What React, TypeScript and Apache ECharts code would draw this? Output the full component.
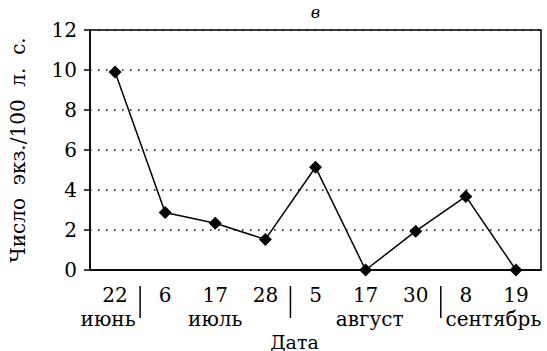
import React, { useEffect, useRef } from "react";
import * as echarts from "echarts";

const days = ["22", "6", "17", "28", "5", "17", "30", "8", "19"];
const counts = [9.9, 2.87, 2.34, 1.53, 5.14, 0, 1.94, 3.68, 0];
const months = ["июнь", "июль", "август", "сентябрь"];
// category position (index) under which each month name is centred
const monthPos = [-0.14, 2, 5.08, 7.55];
// boundaries between months (category positions)
const separators = [0.5, 3.5, 6.5];
const yTicks = [0, 2, 4, 6, 8, 10, 12];
const FONT = "DejaVu Serif";

export default function App() {
  const ref = useRef<HTMLDivElement>(null);
  useEffect(() => {
    document.body.style.margin = "0";
    const chart = echarts.init(ref.current!, null, { renderer: "svg" });
    chart.setOption({
      animation: false,
      textStyle: { fontFamily: FONT, color: "#000" },
      grid: {
        left: 84,
        right: 6,
        top: 30,
        bottom: 81,
        show: true,
        borderColor: "#000",
        borderWidth: 1.5,
      },
      xAxis: {
        type: "category",
        data: days,
        boundaryGap: true,
        axisLine: { lineStyle: { color: "#000", width: 1.5 } },
        axisTick: { length: 6, lineStyle: { color: "#000", width: 1.5 } },
        axisLabel: {
          color: "#000",
          fontFamily: FONT,
          fontSize: 20,
          margin: 15,
        },
        splitLine: { show: false },
      },
      yAxis: {
        type: "value",
        min: yTicks[0],
        max: yTicks[yTicks.length - 1],
        interval: 2,
        name: "Число  экз./100  л.  с.",
        nameLocation: "middle",
        nameRotate: 90,
        nameGap: 62,
        nameTextStyle: { color: "#000", fontFamily: FONT, fontSize: 20 },
        axisLine: { show: true, lineStyle: { color: "#000", width: 1.5 } },
        axisTick: { show: true, length: 6, lineStyle: { color: "#000", width: 1.5 } },
        axisLabel: {
          color: "#000",
          fontFamily: FONT,
          fontSize: 20,
          margin: 13,
        },
        splitLine: {
          show: true,
          lineStyle: { color: "#000", width: 1.5, type: [1.5, 6.5] },
        },
      },
      series: [
        {
          type: "line",
          data: counts,
          symbol: "diamond",
          symbolSize: 13,
          lineStyle: { color: "#000", width: 1.5 },
          itemStyle: { color: "#000" },
          z: 5,
        },
      ],
    });

    const px = (v: number) => {
      const a = chart.convertToPixel({ xAxisIndex: 0 }, 0) as number;
      const b = chart.convertToPixel({ xAxisIndex: 0 }, 1) as number;
      return a + (b - a) * v;
    };
    const axisY = chart.convertToPixel({ yAxisIndex: 0 }, 0) as number;
    const topY = chart.convertToPixel({ yAxisIndex: 0 }, 12) as number;
    const leftX = px(-0.5);
    const rightX = px(days.length - 0.5);

    const graphics: any[] = [];
    months.forEach((m, i) => {
      graphics.push({
        type: "text",
        x: px(monthPos[i]),
        y: axisY + 59,
        style: {
          text: m,
          fill: "#000",
          fontFamily: FONT,
          fontSize: 20,
          textAlign: "center",
          textVerticalAlign: "bottom",
        },
      });
    });
    separators.forEach((s) => {
      graphics.push({
        type: "line",
        shape: { x1: px(s), y1: axisY + 16, x2: px(s), y2: axisY + 48 },
        style: { stroke: "#000", lineWidth: 1.5 },
      });
    });
    graphics.push({
      type: "text",
      x: px(3.5) + 4,
      y: axisY + 81,
      style: {
        text: "Дата",
        fill: "#000",
        fontFamily: FONT,
        fontSize: 19,
        textAlign: "center",
        textVerticalAlign: "bottom",
      },
    });
    graphics.push({
      type: "text",
      x: (leftX + rightX) / 2,
      y: topY - 18,
      style: {
        text: "в",
        fill: "#000",
        fontFamily: FONT,
        fontSize: 16,
        fontStyle: "italic",
        textAlign: "center",
        textVerticalAlign: "middle",
      },
    });
    chart.setOption({ graphic: graphics });
    return () => chart.dispose();
  }, []);
  return <div ref={ref} style={{ width: 547, height: 351 }} />;
}
